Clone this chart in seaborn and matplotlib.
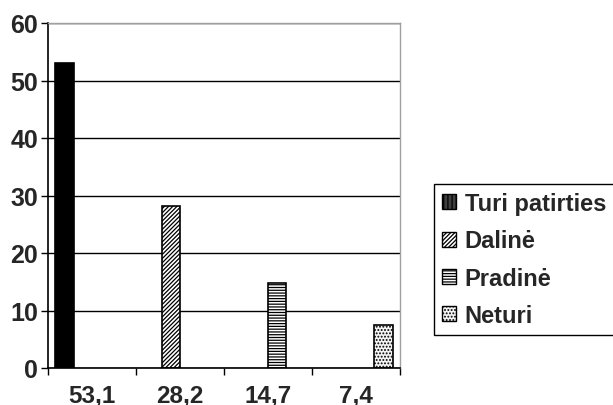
import pandas as pd
import numpy as np
import matplotlib
matplotlib.use('Agg')
import matplotlib.pyplot as plt
import seaborn as sns
from matplotlib.patches import Patch
from matplotlib.ticker import FixedLocator

# --- duomenys ---
categories = ['53,1', '28,2', '14,7', '7,4']
series = ['Turi patirties', 'Dalinė', 'Pradinė', 'Neturi']
values = [53.1, 28.2, 14.7, 7.4]

df = pd.DataFrame({'kategorija': categories, 'grupe': series, 'reiksme': values})

sns.set_style('white')
plt.rcParams['font.family'] = ['Liberation Sans', 'DejaVu Sans']
plt.rcParams['font.weight'] = 'bold'
plt.rcParams['hatch.linewidth'] = 0.9

fig = plt.figure(figsize=(6.13, 4.06), dpi=100)
ax = fig.add_axes([48 / 613, 37 / 406, 352 / 613, 345 / 406])

sns.barplot(data=df, x='kategorija', y='reiksme', hue='grupe',
            order=categories, hue_order=series, width=0.84, dodge=True,
            palette=['black', 'white', 'white', 'white'], edgecolor='black',
            linewidth=1.2, legend=False, ax=ax)

hatches = {0: None, 1: '////////', 2: '------', 3: '.....'}
fills = {0: 'black', 1: 'white', 2: 'white', 3: '#f4f4f4'}
bars = [p for p in ax.patches if p.get_height() > 0]
bars.sort(key=lambda p: p.get_x())
for i, p in enumerate(bars):
    p.set_facecolor(fills[i])
    if hatches[i]:
        p.set_hatch(hatches[i])

ax.set_ylim(0, 60)
ax.set_xlim(-0.5, 3.5)
ax.set_yticks(range(0, 61, 10))
ax.yaxis.grid(True, color='black', linewidth=1.0)
ax.set_axisbelow(True)

ax.xaxis.set_minor_locator(FixedLocator(np.arange(-0.5, 3.6, 1)))
ax.tick_params(axis='x', which='major', length=0, pad=11, labelsize=17.5)
ax.tick_params(axis='x', which='minor', length=5, width=1, color='black', direction='out', bottom=True)
ax.tick_params(axis='y', length=5, width=1, color='black', direction='out', left=True, labelsize=18, pad=2)
for lbl in ax.get_xticklabels() + ax.get_yticklabels():
    lbl.set_fontweight('bold')

ax.set_xlabel('')
ax.set_ylabel('')
for s in ['left', 'bottom']:
    ax.spines[s].set_color('black')
    ax.spines[s].set_linewidth(1.2)
for s in ['top', 'right']:
    ax.spines[s].set_color('#a0a0a0')
    ax.spines[s].set_linewidth(1.0)

handles = [Patch(facecolor='#404040', edgecolor='black', hatch='||||', label=series[0])]
for i in range(1, 4):
    handles.append(Patch(facecolor=fills[i], edgecolor='black', hatch=hatches[i], label=series[i]))
leg = fig.legend(handles=handles, loc='upper left', bbox_to_anchor=(434 / 613, 1 - 185 / 406),
                 frameon=True, fancybox=False, edgecolor='black', framealpha=1,
                 prop={'size': 17, 'weight': 'bold'}, handlelength=0.6, handleheight=0.6,
                 handletextpad=0.35, labelspacing=0.6, borderpad=0.35, borderaxespad=0)
leg.get_frame().set_linewidth(1.0)

fig.savefig('out.png', dpi=100)
